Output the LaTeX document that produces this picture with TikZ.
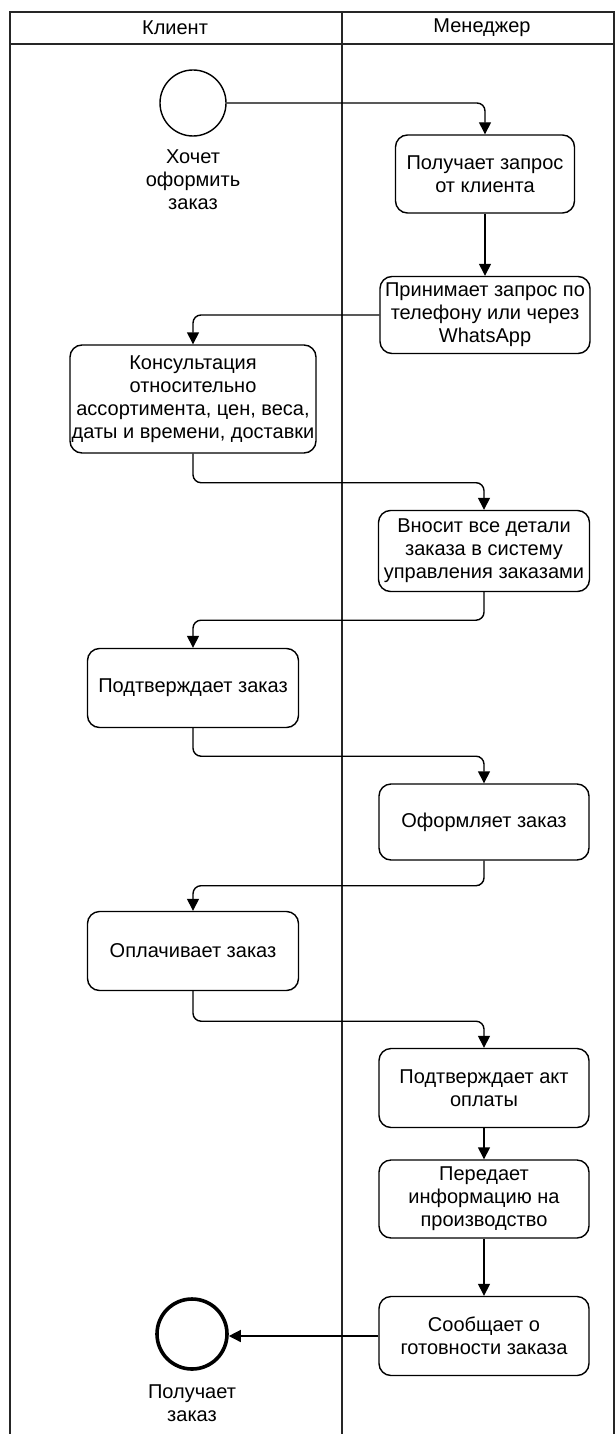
\documentclass[tikz,border=0pt]{standalone}
\usepackage{fontspec}
\setmainfont{Liberation Sans}
\usetikzlibrary{arrows.meta,calc}
\begin{document}
\begin{tikzpicture}[x=1pt,y=-1pt,
  every node/.style={font=\fontsize{20}{23}\selectfont, align=center, inner sep=0pt},
  lane/.style={draw=black!85, line width=1.6pt},
  task/.style={draw, line width=1.4pt, rounded corners=12pt, fill=white},
  flow/.style={draw, line width=1.4pt, rounded corners=8pt, -{Triangle[width=12pt,length=12pt]}},
  startev/.style={draw, circle, line width=1.4pt, minimum size=66pt},
  endev/.style={draw, circle, line width=3.6pt, minimum size=70pt}]
\useasboundingbox (0,0) rectangle (615,1434);
% lanes
\draw[lane] (10,1434) -- (10,12) -- (614,12) -- (614,1434);
\draw[lane] (10,44) -- (614,44);
\draw[lane] (342,12) -- (342,1434);
\node (h1) at (175,28) {Клиент};
\node (h2) at (482,28) {Менеджер};
% events
\node[startev] (s) at (193,103) {};
\node (sl) at (193,180) {Хочет\\оформить\\заказ};
\node[endev] (e) at (192,1334) {};
\node (el) at (192,1403) {Получает\\заказ};
% tasks
\node[task, minimum width=179pt, minimum height=78pt] (b1) at (485,174) {Получает запрос\\от клиента};
\node[task, minimum width=210pt, minimum height=77pt] (b2) at (485,315) {Принимает запрос по\\телефону или через\\WhatsApp};
\node[task, minimum width=246pt, minimum height=108pt] (b3) at (193,399) {Консультация\\относительно\\ассортимента, цен, веса,\\даты и времени, доставки};
\node[task, minimum width=211pt, minimum height=81pt] (b4) at (484,551) {Вносит все детали\\заказа в систему\\управления заказами};
\node[task, minimum width=211pt, minimum height=79pt] (b5) at (193,688) {Подтверждает заказ};
\node[task, minimum width=210pt, minimum height=76pt] (b6) at (484,822) {Оформляет заказ};
\node[task, minimum width=211pt, minimum height=79pt] (b7) at (193,951) {Оплачивает заказ};
\node[task, minimum width=210pt, minimum height=79pt] (b8) at (484,1088) {Подтверждает акт\\оплаты};
\node[task, minimum width=210pt, minimum height=78pt] (b9) at (484,1199) {Передает\\информацию на\\производство};
\node[task, minimum width=210pt, minimum height=79pt] (b10) at (484,1336) {Сообщает о\\готовности заказа};
% flows
\draw[flow] (s.east) -| (b1.north);
\draw[flow] (b1.south) -- (b2.north);
\draw[flow] (b2.west) -| (b3.north);
\draw[flow] (b3.south) -- ++(0,29) -| (b4.north);
\draw[flow] (b4.south) -- ++(0,28) -| (b5.north);
\draw[flow] (b5.south) -- ++(0,28) -| (b6.north);
\draw[flow] (b6.south) -- ++(0,25) -| (b7.north);
\draw[flow] (b7.south) -- ++(0,30) -| (b8.north);
\draw[flow] (b8.south) -- (b9.north);
\draw[flow] (b9.south) -- (b10.north);
\draw[flow] (b10.west) -- (e.east |- b10.west);
\end{tikzpicture}
\end{document}
